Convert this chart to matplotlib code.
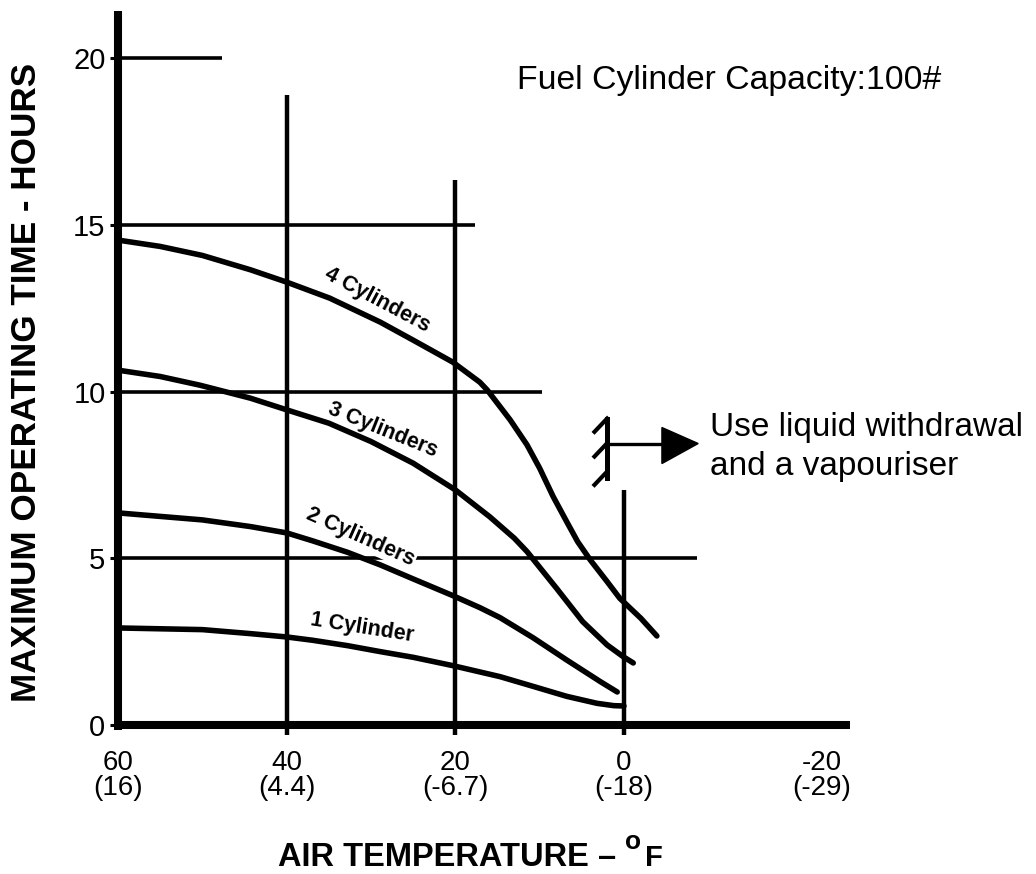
import matplotlib
matplotlib.use("Agg")
import matplotlib.pyplot as plt
from matplotlib.transforms import ScaledTranslation

plt.rcParams['font.family'] = ['Liberation Sans', 'DejaVu Sans']

W, H = 1036, 874

# ---- data (°F, hours) ----
x_ticks = [60, 40, 20, 0, -20]
x_tick_labels = ["60\n(16)", "40\n(4.4)", "20\n(-6.7)", "0\n(-18)", "-20\n(-29)"]
y_ticks = [0, 5, 10, 15, 20]
y_tick_labels = ["0", "5", "10", "15", "20"]

cyl4_x = [60, 55, 50, 44.3, 40, 34.9, 28.9, 25.0, 20.3, 17.1, 16.2, 13.5, 11.5, 10.0, 8.4, 6.8, 5.5, 4.0, 2.0, 0.5, -2.0, -3.9]
cyl4_y = [14.54, 14.35, 14.08, 13.65, 13.28, 12.80, 12.08, 11.54, 10.88, 10.28, 10.04, 9.15, 8.40, 7.70, 6.85, 6.10, 5.50, 4.95, 4.30, 3.80, 3.20, 2.67]

cyl3_x = [60, 55, 50.3, 44.3, 40, 35, 30, 25, 20, 15.9, 13, 11.5, 8, 4.9, 2.0, 0.1, -1.1]
cyl3_y = [10.64, 10.45, 10.19, 9.80, 9.45, 9.05, 8.50, 7.85, 7.05, 6.24, 5.60, 5.20, 4.10, 3.10, 2.40, 2.05, 1.86]

cyl2_x = [60, 50, 44.3, 40, 36.9, 32.8, 28.9, 25.0, 20.3, 17.1, 14.7, 10.8, 6.8, 2.8, 0.8]
cyl2_y = [6.36, 6.15, 5.95, 5.76, 5.52, 5.18, 4.80, 4.38, 3.88, 3.52, 3.22, 2.62, 1.95, 1.30, 0.99]

cyl1_x = [60, 50, 44.3, 40, 36.9, 32.8, 28.9, 25.0, 20.3, 14.7, 10.8, 6.8, 3.2, 1.2, 0.0]
cyl1_y = [2.91, 2.86, 2.74, 2.64, 2.54, 2.38, 2.20, 2.03, 1.78, 1.45, 1.16, 0.86, 0.65, 0.58, 0.57]

curve_labels = ["4 Cylinders", "3 Cylinders", "2 Cylinders", "1 Cylinder"]

# grid segments: horizontal (y, x_from, x_to), vertical (x, y_from, y_to)
h_grid = [(20, 60, 47.7), (15, 60, 17.7), (10, 60, 9.7), (5, 60, -8.7)]
v_grid = [(40, -0.3, 18.9), (20, -0.3, 16.34), (0, -0.3, 7.05)]

fig = plt.figure(figsize=(W / 100, H / 100), dpi=100)
ax = fig.add_axes([118 / W, 1 - 725 / H, (1030 - 118) / W, (725 - 5) / H])
ax.set_xlim(60, 60 - (1030 - 118) / 8.433)
ax.set_ylim(0, (725 - 5) / 33.35)
for s in ax.spines.values():
    s.set_visible(False)
ax.patch.set_alpha(0)

# axis lines
ax.plot([60, 60], [-0.15, 21.4], color='black', lw=5.8, clip_on=False, zorder=4, solid_capstyle='butt')
ax.plot([60.3, -26.8], [0, 0], color='black', lw=5.8, clip_on=False, zorder=4, solid_capstyle='butt')

for y, x0, x1 in h_grid:
    ax.plot([x0, x1], [y, y], color='black', lw=2.6, clip_on=False, zorder=1, solid_capstyle='butt')
for x, y0, y1 in v_grid:
    ax.plot([x, x], [y0, y1], color='black', lw=3.2, clip_on=False, zorder=1, solid_capstyle='butt')

for xs, ys in [(cyl4_x, cyl4_y), (cyl3_x, cyl3_y), (cyl2_x, cyl2_y), (cyl1_x, cyl1_y)]:
    ax.plot(xs, ys, color='black', lw=4.0, zorder=3, solid_capstyle='round', solid_joinstyle='round', clip_on=False)

# curve labels
label_pos = [(29.3, 12.74, -28), (28.6, 8.85, -22), (31.2, 5.64, -24), (31.1, 2.91, -9)]
for txt, (lx, ly, rot) in zip(curve_labels, label_pos):
    bb = dict(facecolor='white', edgecolor='none', pad=1.0) if txt.startswith("2") else None
    ax.text(lx, ly, txt, rotation=rot, rotation_mode='anchor', ha='center', va='center',
            fontsize=15.5, fontweight='bold', zorder=2, bbox=bb)

# ticks
ax.set_yticks(y_ticks)
ax.set_yticklabels(y_tick_labels, fontsize=21)
ax.tick_params(axis='y', length=6, width=2.2, pad=3)
ax.set_xticks(x_ticks)
ax.set_xticklabels(x_tick_labels, fontsize=20, linespacing=0.95)
ax.tick_params(axis='x', length=0, pad=18)
lab = ax.get_xticklabels()[-1]
lab.set_transform(lab.get_transform() + ScaledTranslation(0.29, 0, fig.dpi_scale_trans))

# wall symbol and arrow (liquid withdrawal)
ax.plot([2.0, 2.0], [7.40, 9.19], color='black', lw=3.6, zorder=3, clip_on=False)
for yh in [9.19, 8.45, 7.60]:
    ax.plot([2.0, 3.5], [yh, yh - 0.40], color='black', lw=3.0, zorder=3, clip_on=False)
ax.plot([2.0, -4.6], [8.44, 8.44], color='black', lw=2.4, zorder=3, clip_on=False)
ax.fill([-4.5, -4.5, -8.8], [8.92, 7.84, 8.44], color='black', zorder=3, clip_on=False)

fig.text(517 / W, 1 - 80 / H, "Fuel Cylinder Capacity:100#", fontsize=24.3, ha='left', va='center')
fig.text(710 / W, 1 - 447 / H, "Use liquid withdrawal\nand a vapouriser", fontsize=24,
         ha='left', va='center', linespacing=1.3)

fig.text(27 / W, 1 - 382 / H, "MAXIMUM OPERATING TIME - HOURS", rotation=90, fontsize=25.3,
         fontweight='bold', ha='center', va='center')
fig.text(278 / W, 1 - 866 / H, "AIR TEMPERATURE –", fontsize=23.5, fontweight='bold',
         ha='left', va='baseline')
fig.text(633 / W, 1 - 842 / H, "o", fontsize=19, fontweight='bold', ha='center', va='center')
fig.text(654 / W, 1 - 866 / H, "F", fontsize=21, fontweight='bold', ha='center', va='baseline')

fig.savefig("out.png", dpi=100)
